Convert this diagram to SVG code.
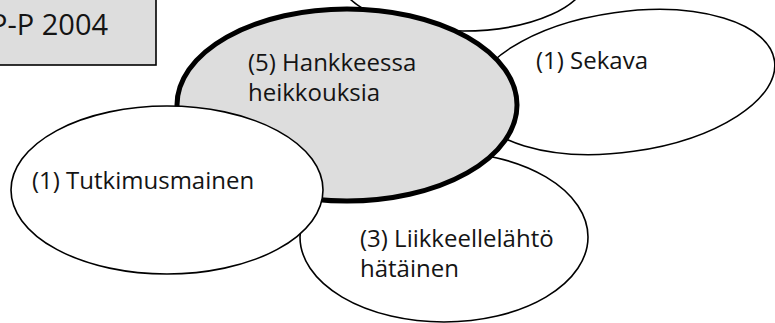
<svg xmlns="http://www.w3.org/2000/svg" width="775" height="323" viewBox="0 0 775 323">
<style>
.node{fill:#ffffff;stroke:#000000;stroke-width:1.6}
.main{fill:#dddddd;stroke:#000000;stroke-width:5}
.box{fill:#dddddd;stroke:#000000;stroke-width:1.6}
.t{font-family:"Open Sans","DejaVu Sans",sans-serif;font-size:24px;fill:#141414}
.tb{font-family:"Open Sans","DejaVu Sans",sans-serif;font-size:29px;fill:#141414}
</style>
<rect width="775" height="323" fill="#ffffff"/>
<g id="title">
<rect class="box" x="-5" y="-5" width="161" height="70"/>
<text class="tb" x="-10" y="35">P-P 2004</text>
</g>
<g id="node-top">
<ellipse class="node" cx="463" cy="-25" rx="125" ry="56"/>
</g>
<g id="node-sekava">
<ellipse class="node" cx="624" cy="82" rx="152" ry="70" transform="rotate(-8 624 82)"/>
<text class="t" x="536" y="69">(1) Sekava</text>
</g>
<g id="node-liikkeellelahto">
<ellipse class="node" cx="444" cy="237" rx="144" ry="85"/>
<text class="t" x="360" y="247">(3) Liikkeellelähtö</text>
<text class="t" x="360" y="277">hätäinen</text>
</g>
<g id="node-hankkeessa">
<ellipse class="main" cx="347" cy="105" rx="170" ry="96"/>
<text class="t" x="248" y="71">(5) Hankkeessa</text>
<text class="t" x="248" y="101">heikkouksia</text>
</g>
<g id="node-tutkimusmainen">
<ellipse class="node" cx="167" cy="190" rx="156" ry="84"/>
<text class="t" x="32" y="189">(1) Tutkimusmainen</text>
</g>
<g id="connectors"></g>
</svg>
